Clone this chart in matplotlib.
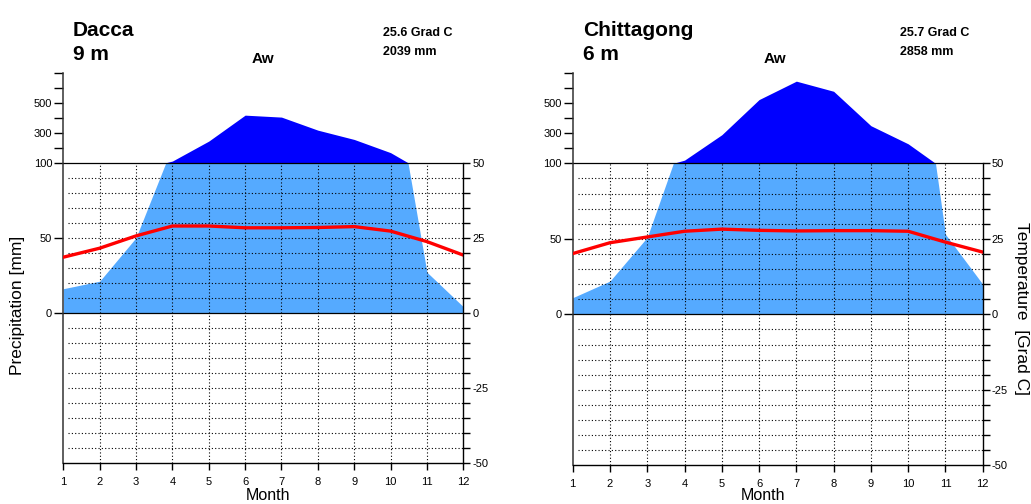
import numpy as np
import matplotlib
matplotlib.use('Agg')
import matplotlib.pyplot as plt

plt.rcParams['font.family'] = ['Liberation Sans', 'DejaVu Sans']

# ---------------- data ----------------
months = np.arange(1, 13)
month_labels = [str(m) for m in months]

dacca_precip = [16, 21, 50, 111, 244, 417, 404, 317, 255, 167, 27, 4]
dacca_temp = [18.5, 21.5, 25.6, 28.9, 28.9, 28.3, 28.3, 28.4, 28.7, 27.2, 23.7, 19.2]

chitt_precip = [11, 22, 51, 121, 289, 522, 644, 577, 349, 229, 53, 20]
chitt_temp = [20.1, 23.7, 25.6, 27.5, 28.2, 27.8, 27.6, 27.7, 27.7, 27.5, 23.9, 20.6]

stations = ['Dacca', 'Chittagong']
elevations = ['9 m', '6 m']
climate_class = ['Aw', 'Aw']
mean_temps = ['25.6 Grad C', '25.7 Grad C']
annual_precip = ['2039 mm', '2858 mm']

precip_ticks_mm = [0, 50, 100, 200, 300, 400, 500, 600, 700]
precip_tick_labels = ['0', '50', '100', '', '300', '', '500', '', '']
temp_ticks = list(range(-50, 51, 5))
temp_tick_labels = [str(t) if t % 25 == 0 else '' for t in temp_ticks]

# ---------------- layout ----------------
W, H = 1031, 504
fig = plt.figure(figsize=(W / 100, H / 100), dpi=100)


def pos(x0, x1, yt, yb):
    return [x0 / W, 1 - yb / H, (x1 - x0) / W, (yb - yt) / H]


def ftext(x, y, s, **kw):
    fig.text(x / W, 1 - y / H, s, **kw)


def scale(p):
    p = np.asarray(p, float)
    return np.where(p <= 100, p / 2.0, 50 + (p - 100) / 20.0)


panels = [
    dict(rect=pos(63.3, 463.3, 72.7, 462.7), precip=dacca_precip, temp=dacca_temp,
         title_x=73, aw_x=263, stat_x=383, month_x=268),
    dict(rect=pos(572.7, 982.7, 72.7, 465.3), precip=chitt_precip, temp=chitt_temp,
         title_x=583, aw_x=775, stat_x=900, month_x=763),
]

light_blue = '#55AAFF'
dark_blue = '#0000FF'
dot = (0, (1, 2))

for i, pnl in enumerate(panels):
    ax = fig.add_axes(pnl['rect'])
    ax.set_xlim(1, 12)
    ax.set_ylim(-50, 80)

    xf = np.linspace(1, 12, 3000)
    pf = np.interp(xf, months, pnl['precip'])
    yf = scale(pf)
    ax.fill_between(xf, 0, np.minimum(yf, 50), color=light_blue, lw=0, zorder=1)
    ax.fill_between(xf, 50, np.maximum(yf, 50), where=yf > 50, color=dark_blue,
                    lw=0, zorder=1, interpolate=True)

    # dotted grid
    for m in months[1:-1]:
        ax.vlines(m, -50, 50, colors='k', linestyles=dot, lw=0.8, zorder=2)
    for v in range(-45, 50, 5):
        if v == 0:
            continue
        ax.hlines(v, 1.13, 12, colors='k', linestyles=dot, lw=0.8, zorder=2)
    ax.hlines([0, 50], 1, 12, colors='k', lw=0.9, zorder=3)

    # temperature
    ax.plot(months, pnl['temp'], color='#FF0000', lw=2.4, zorder=4)

    # spines / ticks
    ax.spines['top'].set_visible(False)
    ax.spines['right'].set_visible(False)
    ax.spines['left'].set_linewidth(1.1)
    ax.spines['left'].set_color('#333333')
    ax.spines['bottom'].set_linewidth(1.0)
    ax.set_xticks(months)
    ax.set_xticklabels(month_labels)
    ax.tick_params(axis='x', direction='out', length=5, width=1, labelsize=8, pad=5)
    ax.set_yticks(scale(precip_ticks_mm))
    ax.set_yticklabels(precip_tick_labels)
    ax.tick_params(axis='y', direction='out', length=6.5, width=1, labelsize=8, pad=1.5)

    ax2 = ax.twinx()
    ax2.set_ylim(-50, 80)
    for s in ['left', 'top', 'bottom']:
        ax2.spines[s].set_visible(False)
    ax2.spines['right'].set_bounds(-50, 50)
    ax2.spines['right'].set_linewidth(1.0)
    ax2.set_yticks(temp_ticks)
    ax2.set_yticklabels(temp_tick_labels)
    ax2.tick_params(axis='y', direction='out', length=5, width=1, labelsize=8, pad=1.5)

    # texts
    tx = pnl['title_x']
    ftext(tx, 36, stations[i], fontsize=15, fontweight='bold', va='baseline')
    ftext(tx, 60, elevations[i], fontsize=15, fontweight='bold', va='baseline')
    ftext(pnl['aw_x'], 63, climate_class[i], fontsize=11, fontweight='bold',
          ha='center', va='baseline')
    ftext(pnl['stat_x'], 35.5, mean_temps[i], fontsize=9, fontweight='bold', va='baseline')
    ftext(pnl['stat_x'], 54.5, annual_precip[i], fontsize=9, fontweight='bold', va='baseline')
    ftext(pnl['month_x'], 503.5, 'Month', fontsize=11.5, ha='center', va='bottom')

ftext(18, 305, 'Precipitation [mm]', fontsize=12.5, rotation=90, ha='center', va='center')
ftext(1022, 309, 'Temperature  [Grad C]', fontsize=12.5, rotation=-90, ha='center', va='center')

fig.savefig('out.png', dpi=100)
